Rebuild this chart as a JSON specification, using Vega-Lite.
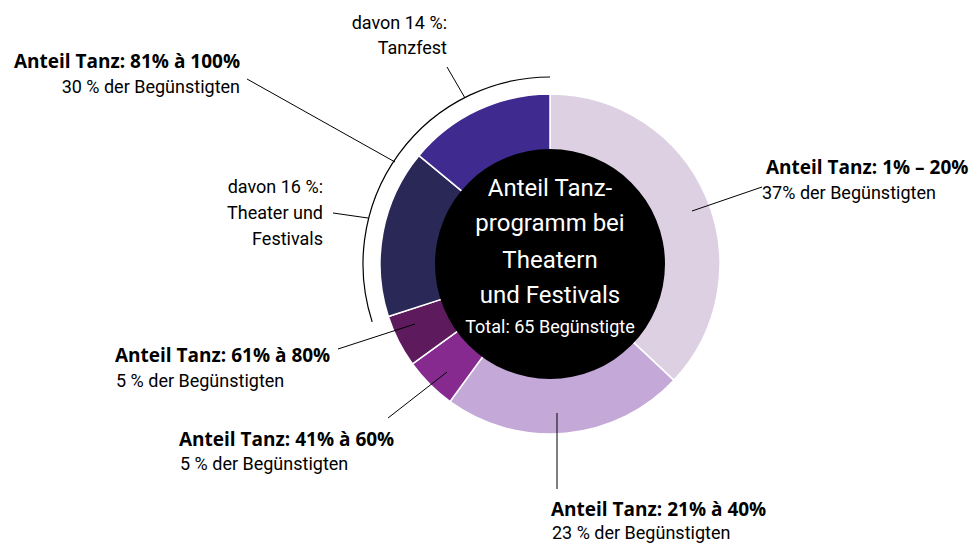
{
  "$schema": "https://vega.github.io/schema/vega-lite/v6.json",
  "width": 974,
  "height": 544,
  "autosize": {"type": "fit", "contains": "padding"},
  "padding": 0,
  "background": "white",
  "config": {"view": {"stroke": null}, "font": "Roboto"},
  "datasets": {
    "segments": [
      {"cat": "1% – 20%", "pct": 37, "ord": 1},
      {"cat": "21% à 40%", "pct": 23, "ord": 2},
      {"cat": "41% à 60%", "pct": 5, "ord": 3},
      {"cat": "61% à 80%", "pct": 5, "ord": 4},
      {"cat": "81% à 100%: Theater und Festivals", "pct": 16, "ord": 5},
      {"cat": "81% à 100%: Tanzfest", "pct": 14, "ord": 6}
    ],
    "bracket": [{"t0": 4.398, "t1": 6.2832}],
    "leaders": [
      {"x": -303, "y": -185, "x2": -155, "y2": -102},
      {"x": -103, "y": -197, "x2": -85, "y2": -166},
      {"x": -217, "y": -51, "x2": -182, "y2": -46},
      {"x": 142, "y": -53, "x2": 212, "y2": -77},
      {"x": -212, "y": 85, "x2": -135, "y2": 60},
      {"x": -162, "y": 154, "x2": -103, "y2": 108},
      {"x": 7, "y": 149, "x2": 7, "y2": 225}
    ],
    "notes": [
      {"txt": "Anteil Tanz: 81% à 100%", "x": -310, "y": -196, "side": "right", "kind": "head"},
      {"txt": "30 % der Begünstigten", "x": -310, "y": -171, "side": "right", "kind": "sub"},
      {"txt": "davon 14 %:", "x": -103, "y": -235, "side": "right", "kind": "sub"},
      {"txt": "Tanzfest", "x": -103, "y": -210, "side": "right", "kind": "sub"},
      {"txt": "davon 16 %:", "x": -227, "y": -71, "side": "right", "kind": "sub"},
      {"txt": "Theater und", "x": -227, "y": -45, "side": "right", "kind": "sub"},
      {"txt": "Festivals", "x": -227, "y": -19, "side": "right", "kind": "sub"},
      {"txt": "Anteil Tanz: 1% – 20%", "x": 216, "y": -90, "side": "left", "kind": "head"},
      {"txt": "37% der Begünstigten", "x": 212, "y": -65, "side": "left", "kind": "sub"},
      {"txt": "Anteil Tanz: 61% à 80%", "x": -435, "y": 98, "side": "left", "kind": "head"},
      {"txt": "5 % der Begünstigten", "x": -434, "y": 123, "side": "left", "kind": "sub"},
      {"txt": "Anteil Tanz: 41% à 60%", "x": -371, "y": 182, "side": "left", "kind": "head"},
      {"txt": "5 % der Begünstigten", "x": -370, "y": 206, "side": "left", "kind": "sub"},
      {"txt": "Anteil Tanz: 21% à 40%", "x": 1, "y": 252, "side": "left", "kind": "head"},
      {"txt": "23 % der Begünstigten", "x": 2, "y": 275, "side": "left", "kind": "sub"}
    ],
    "center": [
      {"txt": "Anteil Tanz-", "x": 0, "y": -68, "kind": "big"},
      {"txt": "programm bei", "x": 0, "y": -33, "kind": "big"},
      {"txt": "Theatern", "x": 0, "y": 4, "kind": "big"},
      {"txt": "und Festivals", "x": 0, "y": 39, "kind": "big"},
      {"txt": "Total: 65 Begünstigte", "x": 0, "y": 69, "kind": "small"}
    ]
  },
  "layer": [
    {
      "data": {"name": "segments"},
      "mark": {"type": "arc", "outerRadius": 170, "innerRadius": 112, "stroke": "white", "strokeWidth": 1.5},
      "encoding": {
        "x": {"datum": 0, "type": "quantitative", "scale": {"domain": [-550, 424], "nice": false, "zero": false}, "axis": null},
        "y": {"datum": 0, "type": "quantitative", "scale": {"domain": [-264, 280], "nice": false, "zero": false, "reverse": true}, "axis": null},
        "theta": {"field": "pct", "type": "quantitative", "stack": true},
        "order": {"field": "ord", "type": "quantitative"},
        "color": {
          "field": "cat", "type": "nominal", "legend": null,
          "scale": {
            "domain": ["1% – 20%", "21% à 40%", "41% à 60%", "61% à 80%", "81% à 100%: Theater und Festivals", "81% à 100%: Tanzfest"],
            "range": ["#ddd0e3", "#c4a8d8", "#872a90", "#5d1a5c", "#2a2857", "#3f2a8f"]
          }
        }
      }
    },
    {
      "data": {"values": [{"c": 1}]},
      "mark": {"type": "point", "shape": "circle", "filled": true, "color": "black", "opacity": 1, "size": 52900},
      "encoding": {
        "x": {"datum": 0, "type": "quantitative"},
        "y": {"datum": 0, "type": "quantitative"}
      }
    },
    {
      "data": {"name": "bracket"},
      "mark": {"type": "arc", "outerRadius": 187, "innerRadius": 187, "fill": null, "stroke": "black", "strokeWidth": 1.2},
      "encoding": {
        "x": {"datum": 0, "type": "quantitative"},
        "y": {"datum": 0, "type": "quantitative"},
        "theta": {"field": "t0", "type": "quantitative", "scale": null},
        "theta2": {"field": "t1"}
      }
    },
    {
      "data": {"name": "leaders"},
      "mark": {"type": "rule", "color": "black", "strokeWidth": 1},
      "encoding": {
        "x": {"field": "x", "type": "quantitative"},
        "y": {"field": "y", "type": "quantitative"},
        "x2": {"field": "x2"},
        "y2": {"field": "y2"}
      }
    },
    {
      "data": {"name": "notes"},
      "transform": [{"filter": "datum.side == 'right' && datum.kind == 'head'"}],
      "mark": {"type": "text", "align": "right", "baseline": "alphabetic", "font": "Open Sans", "fontSize": 19, "fontWeight": "bold", "color": "black"},
      "encoding": {
        "x": {"field": "x", "type": "quantitative"},
        "y": {"field": "y", "type": "quantitative"},
        "text": {"field": "txt"}
      }
    },
    {
      "data": {"name": "notes"},
      "transform": [{"filter": "datum.side == 'right' && datum.kind == 'sub'"}],
      "mark": {"type": "text", "align": "right", "baseline": "alphabetic", "fontSize": 18, "color": "black"},
      "encoding": {
        "x": {"field": "x", "type": "quantitative"},
        "y": {"field": "y", "type": "quantitative"},
        "text": {"field": "txt"}
      }
    },
    {
      "data": {"name": "notes"},
      "transform": [{"filter": "datum.side == 'left' && datum.kind == 'head'"}],
      "mark": {"type": "text", "align": "left", "baseline": "alphabetic", "font": "Open Sans", "fontSize": 19, "fontWeight": "bold", "color": "black"},
      "encoding": {
        "x": {"field": "x", "type": "quantitative"},
        "y": {"field": "y", "type": "quantitative"},
        "text": {"field": "txt"}
      }
    },
    {
      "data": {"name": "notes"},
      "transform": [{"filter": "datum.side == 'left' && datum.kind == 'sub'"}],
      "mark": {"type": "text", "align": "left", "baseline": "alphabetic", "fontSize": 18, "color": "black"},
      "encoding": {
        "x": {"field": "x", "type": "quantitative"},
        "y": {"field": "y", "type": "quantitative"},
        "text": {"field": "txt"}
      }
    },
    {
      "data": {"name": "center"},
      "transform": [{"filter": "datum.kind == 'big'"}],
      "mark": {"type": "text", "align": "center", "baseline": "alphabetic", "fontSize": 24, "color": "white"},
      "encoding": {
        "x": {"field": "x", "type": "quantitative"},
        "y": {"field": "y", "type": "quantitative"},
        "text": {"field": "txt"}
      }
    },
    {
      "data": {"name": "center"},
      "transform": [{"filter": "datum.kind == 'small'"}],
      "mark": {"type": "text", "align": "center", "baseline": "alphabetic", "fontSize": 18, "color": "white"},
      "encoding": {
        "x": {"field": "x", "type": "quantitative"},
        "y": {"field": "y", "type": "quantitative"},
        "text": {"field": "txt"}
      }
    }
  ]
}
